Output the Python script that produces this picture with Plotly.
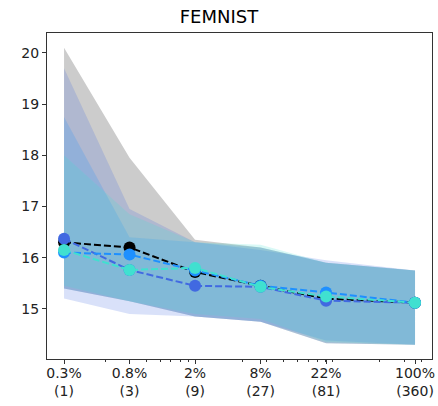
import plotly.graph_objects as go

counts = [1, 3, 9, 27, 81, 360]
tick_labels = ["0.3%<br>(1)", "0.8%<br>(3)", "2%<br>(9)", "8%<br>(27)", "22%<br>(81)", "100%<br>(360)"]

black_mean = [16.30, 16.20, 15.72, 15.45, 15.20, 15.12]
black_up = [20.10, 17.95, 16.35, 16.20, 15.90, 15.75]
black_lo = [15.40, 15.15, 14.85, 14.75, 14.33, 14.30]

royal_mean = [16.37, 15.76, 15.45, 15.43, 15.16, 15.12]
royal_up = [19.70, 16.95, 16.30, 16.15, 15.95, 15.75]
royal_lo = [15.20, 14.90, 14.85, 14.75, 14.38, 14.30]

dodger_mean = [16.10, 16.06, 15.75, 15.45, 15.32, 15.12]
dodger_up = [18.75, 16.40, 16.30, 16.20, 15.90, 15.75]
dodger_lo = [15.40, 15.15, 14.85, 14.75, 14.33, 14.30]

turq_mean = [16.15, 15.76, 15.80, 15.43, 15.24, 15.12]
turq_up = [18.00, 16.85, 16.30, 16.25, 15.90, 15.75]
turq_lo = [15.45, 15.15, 14.90, 14.80, 14.35, 14.30]

series = [
    ("black", (0, 0, 0), black_mean, black_up, black_lo),
    ("royalblue", (65, 105, 225), royal_mean, royal_up, royal_lo),
    ("dodgerblue", (30, 144, 255), dodger_mean, dodger_up, dodger_lo),
    ("turquoise", (64, 224, 208), turq_mean, turq_up, turq_lo),
]

fig = go.Figure()
for name, rgb, m, up, lo in series:
    fig.add_trace(go.Scatter(
        x=counts + counts[::-1], y=up + lo[::-1], fill="toself",
        fillcolor="rgba(%d,%d,%d,0.2)" % rgb, line=dict(width=0),
        mode="lines", hoverinfo="skip", showlegend=False))
for name, rgb, m, up, lo in series:
    fig.add_trace(go.Scatter(
        x=counts, y=m, mode="lines+markers", name=name,
        line=dict(color="rgb(%d,%d,%d)" % rgb, width=2, dash="7px,3px"),
        marker=dict(color="rgb(%d,%d,%d)" % rgb, size=12),
        showlegend=False))

minor_vals = []
for dec in [1, 10, 100]:
    for k in range(2, 10):
        minor_vals.append(k * dec)

font = "DejaVu Sans, sans-serif"
fig.update_layout(
    width=438, height=406,
    margin=dict(l=47, r=6, t=33, b=47, autoexpand=False),
    paper_bgcolor="white", plot_bgcolor="white",
    title=dict(text="FEMNIST", x=0.5, xanchor="center", y=0.96, yanchor="middle",
               font=dict(family=font, size=18, color="black")),
    font=dict(family=font, size=14, color="#222"),
    xaxis=dict(type="log", range=[-0.124, 2.68], tickmode="array", tickvals=counts,
               ticktext=tick_labels, ticks="outside", ticklen=4, tickcolor="#333",
               showgrid=False, zeroline=False, showline=True, linecolor="#333",
               linewidth=1, mirror=True, automargin=False, ticklabelstandoff=-3,
               minor=dict(tickmode="array", tickvals=minor_vals, ticks="outside",
                          ticklen=2, tickcolor="#333", showgrid=False),
               tickfont=dict(family=font, size=14, color="#222")),
    yaxis=dict(range=[14.02, 20.39], tickmode="array", tickvals=[15, 16, 17, 18, 19, 20],
               ticks="outside", ticklen=4, tickcolor="#333", showgrid=False, automargin=False,
               zeroline=False, showline=True, linecolor="#333", linewidth=1, mirror=True,
               tickfont=dict(family=font, size=14, color="#222")),
)

fig.write_html("out.html", config={"displayModeBar": False},
               post_script="document.body.style.margin='0';document.body.style.overflow='hidden';")
